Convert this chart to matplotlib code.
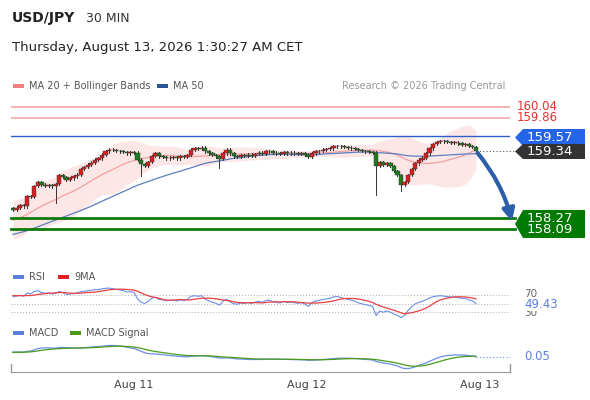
import numpy as np
import matplotlib
matplotlib.use("Agg")
import matplotlib.pyplot as plt
from matplotlib.patches import Polygon, Rectangle

history = [157.80,157.75,157.70,157.72,157.68,157.65,157.70,157.74,157.78,157.72,
           157.69,157.73,157.80,157.85,157.82,157.78,157.84,157.90,157.88,157.93,
           157.98,157.95,157.90,157.86,157.92,158.00,158.05,158.02,157.98,158.06,
           158.12,158.10,158.05,158.00,157.96,158.02,158.10,158.18,158.15,158.22,
           158.28,158.25,158.30,158.35,158.32,158.38,158.44,158.40,158.36,158.42]
closes = [158.40,158.43,158.47,158.45,158.62,158.60,158.78,158.84,158.80,158.78,
          158.79,158.77,158.81,158.95,158.92,158.88,158.90,158.93,158.96,159.05,
          159.08,159.12,159.15,159.20,159.22,159.28,159.33,159.36,159.35,159.34,
          159.33,159.32,159.30,159.32,159.31,159.20,159.13,159.10,159.16,159.26,
          159.30,159.25,159.24,159.22,159.23,159.24,159.22,159.25,159.24,159.27,
          159.36,159.38,159.37,159.39,159.33,159.30,159.27,159.25,159.21,159.30,
          159.36,159.30,159.25,159.24,159.27,159.26,159.28,159.26,159.29,159.31,
          159.29,159.33,159.34,159.31,159.30,159.29,159.32,159.30,159.31,159.30,
          159.29,159.30,159.28,159.24,159.30,159.33,159.34,159.36,159.37,159.38,
          159.41,159.42,159.41,159.40,159.39,159.38,159.37,159.35,159.34,159.33,
          159.32,159.31,159.10,159.16,159.12,159.14,159.10,159.02,158.95,158.80,
          158.84,158.95,159.05,159.14,159.20,159.23,159.30,159.38,159.45,159.48,
          159.50,159.49,159.48,159.47,159.47,159.46,159.44,159.45,159.42,159.40,159.34]
long_wicks = {12: 158.51, 36: 158.94, 58: 159.07, 102: 158.64, 109: 158.70}
levels_red = [160.04, 159.86]
level_blue = 159.57
levels_green = [158.27, 158.09]
last_price = 159.34
target_price = 158.17
rsi_last = "49.43"
macd_last = "0.05"
date_labels = ["Aug 11", "Aug 12", "Aug 13"]
date_idx = [34, 82.5, 131]

W, H = 590, 400
fig = plt.figure(figsize=(W/100, H/100), dpi=100)
fig.patch.set_facecolor("white")
def fx(x): return x / W
def fy(y): return 1 - y / H

allc = np.array(history + closes)
n0 = len(history)
def sma(a, w):
    out = np.full(len(a), np.nan)
    for i in range(w-1, len(a)):
        out[i] = a[i-w+1:i+1].mean()
    return out
def sstd(a, w):
    out = np.full(len(a), np.nan)
    for i in range(w-1, len(a)):
        out[i] = a[i-w+1:i+1].std()
    return out
def ema(a, w):
    k = 2/(w+1); out = np.empty(len(a)); out[0] = a[0]
    for i in range(1, len(a)): out[i] = a[i]*k + out[i-1]*(1-k)
    return out
ma20 = sma(allc, 20)[n0:]
sd20 = sstd(allc, 20)[n0:]
ma50 = sma(allc, 50)[n0:]
d = np.diff(allc, prepend=allc[0])
up = np.where(d > 0, d, 0); dn = np.where(d < 0, -d, 0)
au = np.empty(len(d)); ad = np.empty(len(d)); au[0] = up[:14].mean(); ad[0] = dn[:14].mean()
for i in range(1, len(d)):
    au[i] = (au[i-1]*13 + up[i])/14; ad[i] = (ad[i-1]*13 + dn[i])/14
rsi = 100 - 100/(1 + au/np.maximum(ad, 1e-9))
rsi9 = sma(rsi, 9)
macd = ema(allc, 12) - ema(allc, 26)
sig = ema(macd, 9)
rsi, rsi9, macd, sig = rsi[n0:], rsi9[n0:], macd[n0:], sig[n0:]

N = len(closes)
x = np.arange(N)
xl = (-0.56, 139.6)

ax = fig.add_axes([fx(11), fy(250), fx(499), 158/H])
ax.set_xlim(*xl)
ppx = 62.6
ax.set_ylim(158.09 - 21/ppx, 160.04 + 15/ppx)
ax.axis("off")
ax.fill_between(x, ma20+2*sd20, ma20-2*sd20, color="#fde6e6", lw=0, zorder=1)
ax.plot(x, ma20, color="#f4a0a0", lw=0.9, zorder=2)
ax.plot(x, ma50, color="#5b7fbf", lw=0.9, zorder=2)
for lv in levels_red:
    ax.axhline(lv, color="#f4a6a6", lw=1.2, zorder=1)
ax.axhline(level_blue, color="#2e5fc9", lw=1.0, zorder=1)
for lv in levels_green:
    ax.plot([xl[0], 141], [lv, lv], color="#0a7a0a", lw=2, zorder=3, clip_on=False)
opens = [history[-1]] + closes[:-1]
for i in range(N):
    o, c = opens[i], closes[i]
    hi = max(o, c) + 0.02
    lo = long_wicks.get(i, min(o, c) - 0.02)
    col = "#d62020" if c >= o else "#1f7a1f"
    ax.plot([i, i], [lo, hi], color="#333333", lw=0.7, zorder=4)
    ax.add_patch(Rectangle((i-0.6, min(o, c)), 1.2, max(abs(c-o), 0.008), facecolor=col,
                           edgecolor="#333333", lw=0.3, zorder=5))
ax.plot([N-1, 141], [last_price, last_price], color="#555555", lw=0.8, ls=(0, (1, 2)), clip_on=False)
ax.annotate("", xy=(140.3, target_price), xytext=(N-1, last_price),
            arrowprops=dict(arrowstyle="-|>,head_width=0.35,head_length=0.7", color="#2d5ea8", lw=3,
                            connectionstyle="arc3,rad=-0.12"), annotation_clip=False, zorder=6)

def label(y0, y1, color, lines, tcolor="white"):
    pts = [(515, (y0+y1)/2), (523, y0), (585, y0), (585, y1), (523, y1)]
    fig.add_artist(Polygon([(fx(a), fy(b)) for a, b in pts], closed=True, facecolor=color,
                           edgecolor="none", transform=fig.transFigure))
    for yy, t in lines:
        fig.text(fx(527), fy(yy), t, color=tcolor, fontsize=9.5, va="center", ha="left")
label(129, 146, "#2465e8", [(137.5, "159.57")])
label(144, 159, "#333333", [(151.5, "159.34")])
label(210, 238, "#007a00", [(218, "158.27"), (230, "158.09")])
fig.text(fx(517), fy(106), "160.04", color="#e83030", fontsize=8.5, va="center")
fig.text(fx(517), fy(117.5), "159.86", color="#e83030", fontsize=8.5, va="center")

fig.text(fx(12), fy(18), "USD/JPY", fontsize=10, fontweight="bold", color="#222222", va="center")
fig.text(fx(86), fy(18), "30 MIN", fontsize=9, color="#333333", va="center")
fig.text(fx(12), fy(48), "Thursday, August 13, 2026 1:30:27 AM CET", fontsize=9.5, color="#222222", va="center")
def legend_item(xp, yp, color, text):
    fig.add_artist(Rectangle((fx(xp), fy(yp+2)), fx(11), 4/H, facecolor=color, edgecolor="none",
                             transform=fig.transFigure))
    fig.text(fx(xp+16), fy(yp), text, fontsize=7, color="#555555", va="center")
legend_item(13, 86, "#f08080", "MA 20 + Bollinger Bands")
legend_item(157, 86, "#2a5599", "MA 50")
fig.text(fx(505), fy(86), "Research \u00a9 2026 Trading Central", fontsize=7, color="#999999",
         va="center", ha="right")
legend_item(13, 277, "#5b7fdf", "RSI")
legend_item(58, 277, "#e02020", "9MA")
legend_item(13, 333, "#5b7fdf", "MACD")
legend_item(70, 333, "#4a9a1a", "MACD Signal")

ar = fig.add_axes([fx(11), fy(320), fx(499), 35/H])
ar.set_xlim(*xl)
r_per_px = 40/17
ar.set_ylim(30 - 8*r_per_px, 70 + 10*r_per_px)
ar.axis("off")
for lv in (70, 50, 30):
    ar.plot([xl[0], 139.6], [lv, lv], color="#aaaaaa", lw=0.7, ls=(0, (1, 2)), clip_on=False)
ar.plot(x, rsi, color="#6a8ee8", lw=0.8)
ar.plot(x, rsi9, color="#e84040", lw=0.9)
fig.text(fx(524), fy(294), "70", fontsize=7.5, color="#666666", va="center")
fig.text(fx(524), fy(313), "30", fontsize=7.5, color="#666666", va="center")
fig.text(fx(524), fy(304), rsi_last, fontsize=8.5, color="#5b7fdf", va="center",
         bbox=dict(facecolor="white", edgecolor="none", pad=0.2))

am = fig.add_axes([fx(11), fy(372), fx(499), 30/H])
am.set_xlim(*xl)
lo, hi = min(macd.min(), sig.min()), max(macd.max(), sig.max())
pad = (hi - lo) * 0.15
am.set_ylim(lo - pad, hi + pad)
for sp in ("top", "right", "left"):
    am.spines[sp].set_visible(False)
am.spines["bottom"].set_color("#999999")
am.set_yticks([])
am.set_xticks(date_idx)
am.set_xticklabels(date_labels, fontsize=8, color="#444444")
am.tick_params(axis="x", length=0, pad=6)
for xe in xl:
    am.plot([xe, xe], [lo - pad, lo - pad + (hi-lo)*0.35], color="#999999", lw=1, clip_on=False)
am.plot(x, macd, color="#6a8ee8", lw=0.9)
am.plot(x, sig, color="#4a9a1a", lw=0.9)
am.plot([N-1, 139.6], [macd[-1], macd[-1]], color="#6a8ee8", lw=0.8, ls=(0, (1, 2)), clip_on=False)
fig.text(fx(524), fy(357), macd_last, fontsize=8.5, color="#5b7fdf", va="center")

fig.savefig("out.png", dpi=100, facecolor="white")
